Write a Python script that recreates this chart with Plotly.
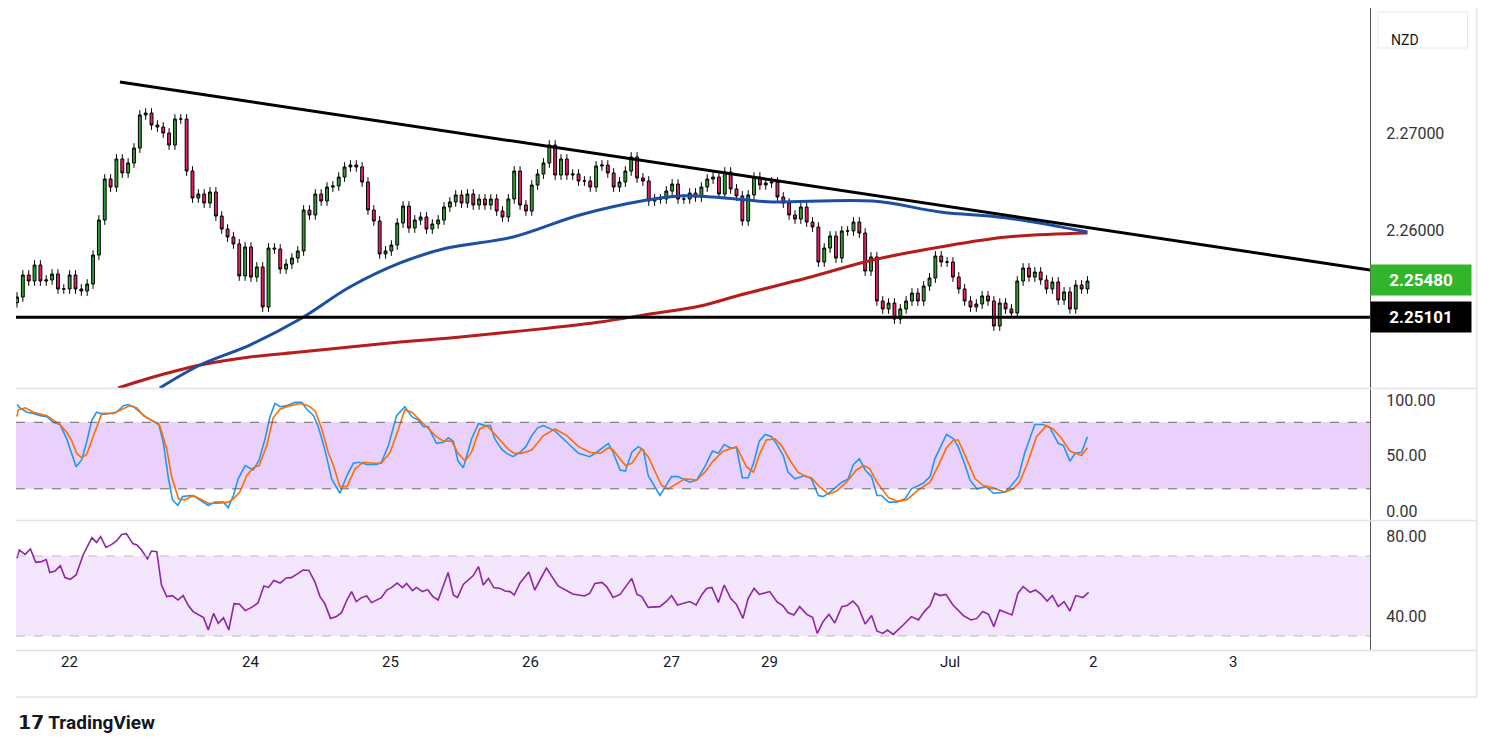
import plotly.graph_objects as go

closes = [2.25309,2.25536,2.25474,2.25639,2.25474,2.25485,2.25546,2.25392,2.25392,2.25536,
2.25392,2.25371,2.25443,2.25742,2.26103,2.26526,2.26443,2.26732,2.26588,2.26691,
2.26845,2.27186,2.27206,2.27082,2.27062,2.27000,2.26876,2.27144,2.27144,2.26608,
2.26330,2.26371,2.26278,2.26392,2.26144,2.26010,2.25928,2.25856,2.25526,2.25825,
2.25515,2.25619,2.25206,2.25814,2.25804,2.25598,2.25649,2.25711,2.25784,2.26206,
2.26155,2.26371,2.26299,2.26443,2.26454,2.26546,2.26650,2.26670,2.26650,2.26495,
2.26206,2.26093,2.25753,2.25784,2.25845,2.26072,
2.26247,2.26021,2.26103,2.26134,2.26010,2.26062,2.26103,2.26237,2.26289,2.26361,
2.26278,2.26371,2.26258,2.26320,2.26258,2.26320,2.26196,2.26134,2.26320,2.26608,
2.26258,2.26196,2.26464,2.26577,2.26691,2.26876,2.26567,2.26732,2.26567,2.26577,
2.26505,2.26505,2.26443,2.26660,2.26670,2.26588,2.26443,2.26495,2.26608,2.26753,
2.26536,2.26505,2.26299,2.26320,2.26320,2.26402,2.26474,2.26320,2.26320,2.26381,
2.26340,2.26443,2.26526,2.26546,2.26371,2.26598,2.26423,2.26351,2.26093,2.26361,
2.26546,2.26464,2.26485,2.26495,2.26340,2.26278,2.26155,2.26113,2.26237,2.26082,
2.26031,2.25670,2.25814,2.25938,2.25711,2.25990,2.25990,2.26082,2.25969,2.25577,
2.25722,2.25268,2.25186,2.25247,2.25082,2.25186,2.25268,2.25350,2.25268,2.25423,
2.25505,2.25732,2.25670,2.25670,2.25515,2.25392,2.25268,2.25206,2.25237,2.25320,
2.25268,2.25010,2.25247,2.25186,2.25144,2.25474,2.25608,2.25515,2.25567,2.25485,
2.25392,2.25464,2.25278,2.25361,2.25186,2.25433,2.25392,2.25474]
first_open = 2.2525
wick = 0.0005

ma_blue_i = [24.4,31.3,39.8,48.4,56.9,65.5,73.5,84.8,96.2,107.7,113.3,119,124.8,129.2,146.3,157.8,169.2,183]
ma_blue_v = [2.24371,2.24608,2.24814,2.25082,2.25412,2.25660,2.25814,2.25928,2.26155,2.26309,2.26351,2.26340,2.26309,2.26289,2.26299,2.26186,2.26124,2.25979]
ma_red_i = [17.3,22.7,31.3,39.8,48.4,56.9,65.5,74,82.6,91.1,99.7,108.2,116.8,123.6,135,146.3,157.8,169.2,183]
ma_red_v = [2.24371,2.24474,2.24608,2.24691,2.24742,2.24794,2.24845,2.24887,2.24938,2.24990,2.25052,2.25134,2.25216,2.25330,2.25505,2.25691,2.25825,2.25928,2.25969]

trend_i = [17.6, 231.3]
trend_v = [2.27526, 2.25588]
support = 2.25101
last_price = 2.25480

k_i = [0,0.5,1.7,2.8,4,5.1,6.2,7.35,8.5,9.3,10.1,11.05,11.9,12.8,13.6,14.8,15.9,17,18.2,19,19.9,21,22.2,23.3,24.2,25,25.9,26.6,27.5,28.3,29.6,30.4,31.3,32.7,33.8,35.3,36.1,37,37.8,39,40.4,41.4,42.4,43.2,44.1,45,46.1,47.5,48.7,49.5,50.7,51.5,52.6,53.8,55.2,56.4,57.5,58.4,59.8,61.5,62.3,63.5,64.9,66.3,67.5,68.6,69.5,70.3,71.7,72.9,73.7,74.6,75.4,76.3,77.7,78.9,80,80.9,81.7,82.8,83.7,84.8,86,
87,88,89,90,92,94,96,
97.9,99.1,101.1,101.9,103.1,104,105.1,106.2,107.1,107.9,109.9,111.9,113,115,116.2,117.6,118.9,119.9,120.9,121.9,123,124,125,125.9,126.9,127.9,129,129.8,131,131.8,133,134.7,135.8,137,137.8,139,141,142.1,143,144,145,146.1,147,147.8,149,150.4,151.8,152.9,154.9,156.1,156.9,157.8,158.9,160.1,160.9,162.1,162.9,164.1,165.7,166.9,168.9,170,171.2,172.3,174,175.4,176.6,178,178.9,180,180.9,182,183]
k_v = [96,93,89,88,86,85,80,78,65,53,40,46,62,82,89,87,88,89,95,96,94,89,84,81,79,62,29,10,5,13,14,13,10,5,8,8,3,14,29,41,37,46,65,84,97,94,95,98,98,92,86,76,56,29,16,32,43,44,42,42,44,59,86,94,85,82,76,76,61,62,66,63,45,39,65,79,77,77,65,56,52,49,53,
58,68,75,77,72,62,52,
49,53,61,53,37,36,53,58,55,32,14,31,31,26,28,40,54,52,60,57,57,30,30,43,63,69,67,61,50,35,29,32,29,14,13,17,26,29,42,47,37,31,14,14,8,8,11,20,25,31,47,57,69,65,58,41,28,20,22,16,17,23,31,53,78,78,75,61,59,45,52,53,67]
d_i = [0,0.2,1.4,2.8,5.1,7.35,8.5,9.3,10.2,11.05,11.9,13.6,14.5,16.5,17.6,19.3,20.5,21.6,23,24.4,25.6,26.4,27.6,28.7,30.1,31.3,32.7,34.4,36.1,37,38.1,39.3,40.4,41.4,42.7,43.8,45,46.7,48.4,49.8,51,52.1,53.2,54.1,55.2,56.4,57.8,59.2,60.9,62.3,63.8,65.2,66.3,67.5,68.9,70.6,71.7,72.9,74.3,75.4,76.6,77.7,79.1,80.3,81.4,82.8,83.9,85,86.2,
88,90,92,94,96,
97.9,99.7,101.1,101.9,103.1,104,105.1,106.8,107.9,109.1,110.2,111.3,112.8,114.2,116.2,117.6,119,120.7,123,124.7,125.9,127,128.1,129.6,130.7,132.1,133.5,134.9,135.8,137,138.7,140.1,141.8,143.5,144.7,145.8,147,149,150.4,152.1,154.1,156.1,157.5,158.9,160.1,160.9,162.1,163.8,165.2,166.9,168.9,170.3,171.4,172.6,174.3,176,177.1,178.5,180,181.1,182,183]
d_v = [85,91,93,89,86,78,71,64,52,48,51,74,88,88,91,95,93,86,82,77,56,32,11,10,14,11,7,7,8,11,17,32,39,41,59,84,92,95,97,95,90,74,53,41,22,22,38,44,43,43,53,74,91,89,82,73,67,63,63,52,45,53,74,77,71,62,56,52,52,
55,68,74,68,58,
53,52,57,55,47,41,43,56,49,35,23,20,25,29,28,35,45,54,58,40,35,52,64,65,59,46,35,31,30,23,15,18,26,37,41,38,26,12,9,10,19,26,41,57,64,64,50,29,23,21,17,20,26,41,67,77,74,66,54,52,50,57]

rsi_i = [0,0.4,1.4,2.3,3.2,4.2,5,5.6,6.5,7.4,8.2,9.1,10.1,11.3,12.8,13.6,14.3,15.2,16.2,17,17.9,18.7,19.8,20.5,21.3,22.3,23,23.9,24.7,25.6,26.6,27.5,28.4,29.3,30.1,31,31.9,32.7,33.6,34.4,35.3,36.2,37.1,38,39,40.1,41.2,42.2,43,43.9,45,46,46.9,48,48.9,49.9,50.9,51.8,52.6,53.6,54.6,55.5,56.4,57.2,58,58.9,59.8,60.6,61.5,62.3,63.2,64,65,65.9,66.6,67.6,68.3,69.3,70.2,71.1,72,72.9,73.7,74.6,75.3,76.3,77.4,78,78.9,79.7,80.6,81.5,82.6,83.4,84.3,85,86,
87.5,88.5,90.5,92.5,95,97,
97.9,98.8,100,100.8,101.9,103.1,104.2,105.1,106,106.8,107.9,109.9,111.1,111.9,112.9,115,116.1,117.1,117.9,118.8,119.9,120.9,122,123,124.1,125,126,126.9,128.7,129.9,130.9,131.8,132.8,133.8,135,136,136.8,137.8,138.8,139.8,141,141.9,142.9,143.8,145,146.1,147,148,148.8,149.8,151.5,152.9,154.1,155.1,156.1,156.9,157.8,158.8,160,161.8,163.1,164.1,165.1,166.1,167,168,170.1,171.1,172,173.2,174.1,175.1,176.1,177,178,179,180,181,182.2,183.2]
rsi_v = [68.8,73,70.8,73.5,66.8,67.2,68.2,61.8,62.5,65.2,59.2,58.3,60.5,70.5,79.2,76.8,79.7,74.3,75.8,77.5,80.8,81.2,76.2,75.5,73,68.5,72.5,72.2,55.5,49.7,50.2,48,50.2,45.2,42.2,40.5,39.2,33,41.3,36.3,39.2,33,46.2,46,42.7,44.3,46.5,55,54.3,57.8,56.5,59,59.2,61.2,63,62.8,57.2,49.7,46.3,38.8,39.7,41.8,48,52.2,47.2,49.2,50,46.7,48,49.2,53,54.2,56.5,54.2,56.3,52.7,54.3,52.2,53.2,49.7,48,55.5,61.8,50.5,49.2,55.8,58.5,60.2,64.7,55.5,58.8,54.2,53.8,52.5,52.2,50.5,56.5,
62,53,64,55,51,50,
51.3,56.3,56.8,54.7,49.3,50.8,55.5,58.8,50.8,49.7,44.3,44.7,47.5,50.2,45.5,47.2,45.5,50.8,53.8,54.3,46.8,55.5,48.8,45.8,38.8,48.8,53.8,50.8,52.2,47.2,45.2,41.7,40.5,44.7,40.8,39.3,31.3,37.2,40.8,36.5,44.7,45.2,47.5,44.7,36,40.2,32.5,31.3,33,30.8,35.5,39.7,38,42.2,45.2,51.3,50.2,50.8,45.5,40.2,38,38.8,42.2,40.8,34.7,43,40.5,51.3,54.7,51.8,53,50.8,47.5,50.2,44.7,47.2,42.5,50.2,49.2,51.8]

tick_pos = [8.9,40,63.9,87.8,111.97,128.7,159.5,183.9,207.9]
tick_text = ["22","24","25","26","27","29","Jul","2","3"]

n = len(closes)
idx = list(range(n))
opens = [first_open] + closes[:-1]
highs = [max(o, c) + wick for o, c in zip(opens, closes)]
lows = [min(o, c) - wick for o, c in zip(opens, closes)]

XR = [-0.17, 231.3]
fig = go.Figure()
fig.add_trace(go.Candlestick(x=idx, open=opens, high=highs, low=lows, close=closes,
    increasing=dict(line=dict(color="black", width=1), fillcolor="#2e9e2e"),
    decreasing=dict(line=dict(color="black", width=1), fillcolor="#e91e63"),
    whiskerwidth=0, xaxis="x", yaxis="y", hoverinfo="skip"))
fig.add_trace(go.Scatter(x=ma_red_i, y=ma_red_v, mode="lines", line=dict(color="#b71c1c", width=3, shape="spline"), xaxis="x", yaxis="y"))
fig.add_trace(go.Scatter(x=ma_blue_i, y=ma_blue_v, mode="lines", line=dict(color="#1a4fa3", width=3, shape="spline"), xaxis="x", yaxis="y"))
fig.add_trace(go.Scatter(x=trend_i, y=trend_v, mode="lines", line=dict(color="black", width=3), xaxis="x", yaxis="y"))
fig.add_trace(go.Scatter(x=XR, y=[support, support], mode="lines", line=dict(color="black", width=3), xaxis="x", yaxis="y"))
fig.add_trace(go.Scatter(x=k_i, y=k_v, mode="lines", line=dict(color="#2196f3", width=1.6), xaxis="x2", yaxis="y2"))
fig.add_trace(go.Scatter(x=d_i, y=d_v, mode="lines", line=dict(color="#ff6d00", width=1.6), xaxis="x2", yaxis="y2"))
fig.add_trace(go.Scatter(x=rsi_i, y=rsi_v, mode="lines", line=dict(color="#8e24aa", width=1.6), xaxis="x3", yaxis="y3"))

H = 689.0
def py(pix):
    return (697 - pix) / H

XE = 1.0787
shapes = [
    dict(type="rect", xref="x2", yref="y2", x0=XR[0], x1=XR[1], y0=20, y1=80, fillcolor="#e9d1fc", line=dict(width=0), layer="below"),
    dict(type="line", xref="x2", yref="y2", x0=XR[0], x1=XR[1], y0=80, y1=80, line=dict(color="#666", width=1, dash="dash")),
    dict(type="line", xref="x2", yref="y2", x0=XR[0], x1=XR[1], y0=20, y1=20, line=dict(color="#666", width=1, dash="dash")),
    dict(type="rect", xref="x3", yref="y3", x0=XR[0], x1=XR[1], y0=30, y1=70, fillcolor="#f4e6fd", line=dict(width=0), layer="below"),
    dict(type="line", xref="x3", yref="y3", x0=XR[0], x1=XR[1], y0=70, y1=70, line=dict(color="#bbb", width=1, dash="dash")),
    dict(type="line", xref="x3", yref="y3", x0=XR[0], x1=XR[1], y0=30, y1=30, line=dict(color="#bbb", width=1, dash="dash")),
]
for yy in [388.5, 520.5, 650.5]:
    shapes.append(dict(type="line", xref="paper", yref="paper", x0=0, x1=XE, y0=py(yy), y1=py(yy), line=dict(color="#e0e3eb", width=1.5)))
shapes.append(dict(type="line", xref="paper", yref="paper", x0=XE, x1=XE, y0=0, y1=1, line=dict(color="#e0e3eb", width=1.5)))
shapes.append(dict(type="line", xref="paper", yref="paper", x0=0, x1=XE, y0=0, y1=0, line=dict(color="#e0e3eb", width=1.5)))
shapes.append(dict(type="rect", xref="paper", yref="paper", x0=1.0058, x1=1.072, y0=py(48), y1=py(12), line=dict(color="#e6e8ee", width=1), fillcolor="white"))

ann = [dict(x=t, y=py(673), xref="x3", yref="paper", text=s, showarrow=False, font=dict(size=15, color="#131722")) for t, s in zip(tick_pos, tick_text)]
ann.append(dict(x=1.0, xanchor="left", y=last_price, xref="paper", yref="y", text="<b>2.25480</b>", showarrow=False,
                bgcolor="#32b52a", font=dict(size=17, color="white"), borderpad=5, width=90, align="center"))
ann.append(dict(x=1.0, xanchor="left", y=support, xref="paper", yref="y", text="<b>2.25101</b>", showarrow=False,
                bgcolor="black", font=dict(size=17, color="white"), borderpad=5, width=90, align="center"))
ann.append(dict(x=1.014, xanchor="left", y=py(30), xref="paper", yref="paper", text="NZD", showarrow=False, font=dict(size=14, color="#131722")))
ann.append(dict(x=0.0, xanchor="left", y=py(722), yanchor="middle", xref="paper", yref="paper", text="<b>𝟭𝟳 TradingView</b>", showarrow=False, font=dict(size=19, color="#131722")))

ax_common = dict(range=XR, showgrid=False, zeroline=False, showticklabels=False, ticks="", domain=[0, 1])
yfont = dict(size=16, color="#333")
fig.update_layout(
    width=1483, height=742, margin=dict(l=8, r=121, t=0, b=53),
    paper_bgcolor="white", plot_bgcolor="white", showlegend=False,
    font=dict(family="Roboto, sans-serif"),
    xaxis=dict(**ax_common, anchor="y", rangeslider=dict(visible=False)),
    xaxis2=dict(**ax_common, anchor="y2"),
    xaxis3=dict(**ax_common, anchor="y3"),
    yaxis=dict(domain=[py(388), 1], range=[2.24371, 2.28289], side="right", tickvals=[2.27, 2.26], tickformat=".5f",
               showgrid=False, zeroline=False, showline=True, linecolor="#555", ticks="", tickfont=yfont, ticklabelstandoff=12),
    yaxis2=dict(domain=[py(520), py(389)], range=[-8.1, 110], side="right", tickvals=[100, 50, 0], tickformat=".2f",
                showgrid=False, zeroline=False, showline=True, linecolor="#555", ticks="", tickfont=yfont, ticklabelstandoff=12),
    yaxis3=dict(domain=[py(650), py(521)], range=[23, 87.5], side="right", tickvals=[80, 40], tickformat=".2f",
                showgrid=False, zeroline=False, showline=True, linecolor="#555", ticks="", tickfont=yfont, ticklabelstandoff=12),
    shapes=shapes, annotations=ann,
)
fig.write_html("out.html")
